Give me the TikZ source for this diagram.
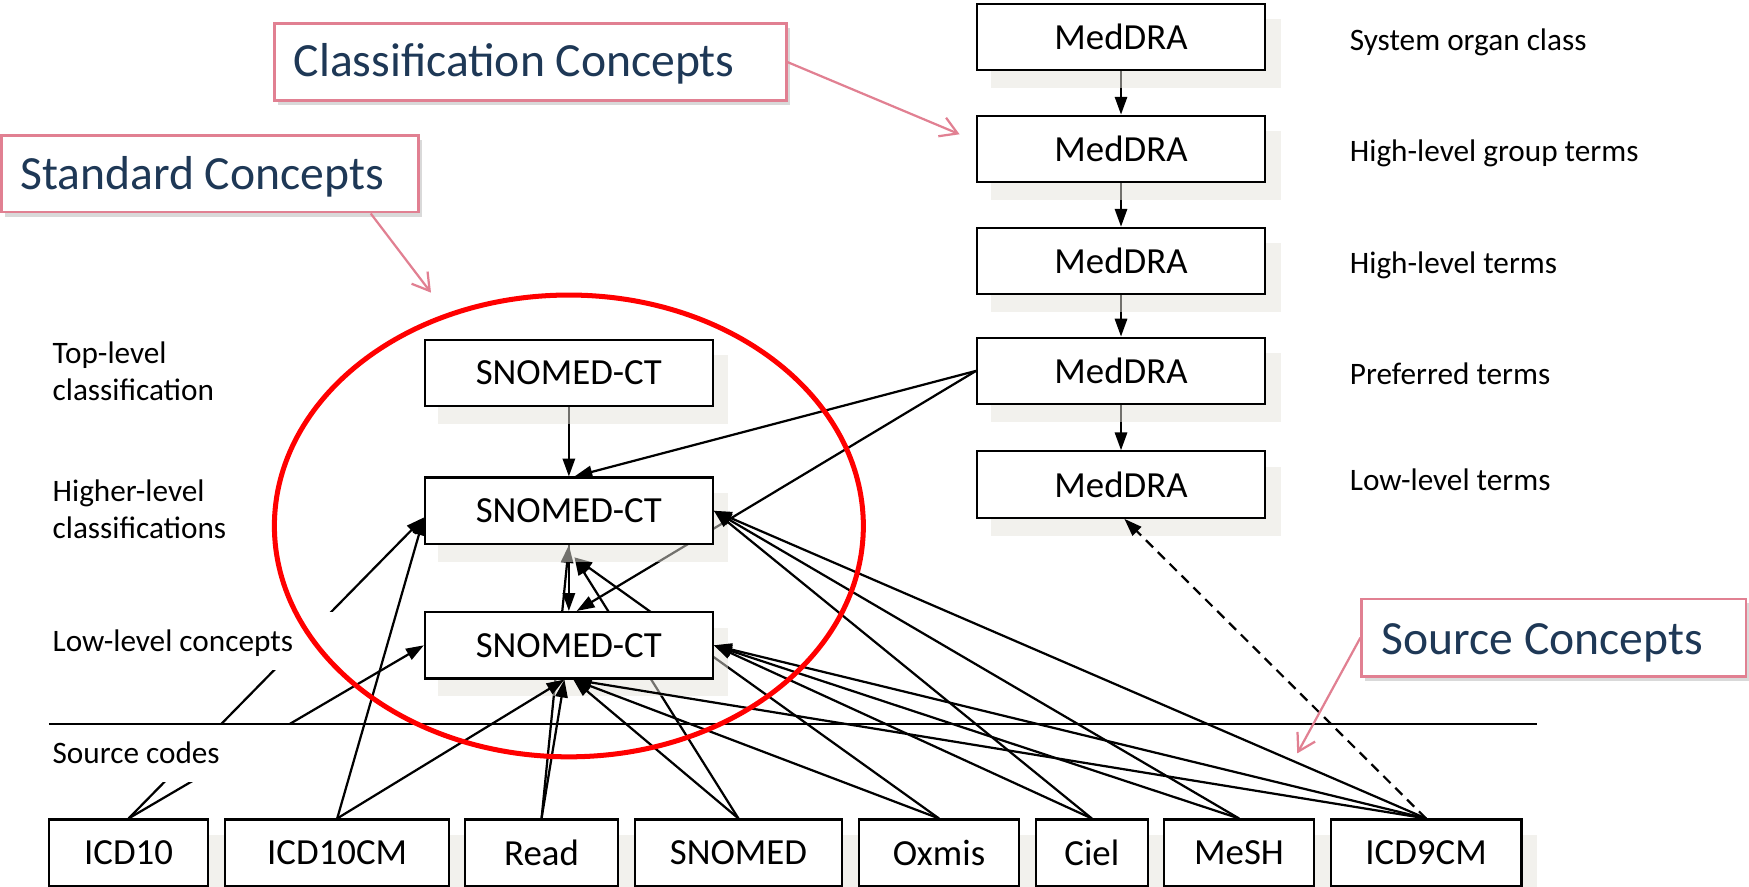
\documentclass[tikz,border=0pt]{standalone}
\usepackage{fontspec}
\setmainfont{Carlito}
\usetikzlibrary{arrows.meta,shadows,calc}
\pgfdeclarelayer{lowlinks}
\pgfdeclarelayer{tint}
\pgfdeclarelayer{highlinks}
\pgfsetlayers{lowlinks,tint,highlinks,main}

\definecolor{calloutpink}{RGB}{225,128,146}
\definecolor{callouttext}{RGB}{30,56,86}
\definecolor{tintfill}{RGB}{229,227,219}
\definecolor{ringred}{RGB}{255,0,0}

\begin{document}
\begin{tikzpicture}[x=1pt,y=-1pt,
  box/.style={draw=black, line width=2pt, fill=white, minimum height=59.5pt,
    inner sep=0pt, font=\fontsize{33}{40}\selectfont},
  wide/.style={box, minimum width=258pt},
  lbl/.style={anchor=base west, inner sep=0pt, font=\fontsize{28}{33.5}\selectfont},
  lblmask/.style={lbl, fill=white, inner xsep=7pt, text height=36pt,
    text depth=16.5pt, text width=246pt, align=flush left},
  link/.style={line width=2pt, -{Triangle[length=16pt,width=11pt]}},
  callout/.style={anchor=north west, draw=calloutpink, line width=2.4pt, fill=white,
    text=callouttext, inner ysep=0pt, align=flush left, font=\fontsize{42.7}{51}\selectfont,
    drop shadow={shadow xshift=3pt, shadow yshift=-4pt, opacity=0.3}},
  pointer/.style={draw=calloutpink, line width=2pt,
    -{Straight Barb[length=15pt,width=18pt]}},
]
\useasboundingbox (0,0) rectangle (1568,795);

% MedDRA hierarchy
\node[wide] (m1) at (1005,33)    {MedDRA};
\node[wide] (m2) at (1005,133.5) {MedDRA};
\node[wide] (m3) at (1005,234)   {MedDRA};
\node[wide] (m4) at (1005,332.5) {MedDRA};
\node[wide] (m5) at (1005,434.4) {MedDRA};

% SNOMED-CT hierarchy
\node[wide] (s1) at (510,334.4) {SNOMED-CT};
\node[wide] (s2) at (510,457.9) {SNOMED-CT};
\node[wide] (s3) at (510,578.5) {SNOMED-CT};

% source vocabularies
\node[box, minimum width=143pt]   (icd10)   at (115.3,764.5)  {ICD10};
\node[box, minimum width=200.5pt] (icd10cm) at (302.3,764.5)  {ICD10CM};
\node[box, minimum width=137pt]   (read)    at (485.5,764.5)  {Read};
\node[box, minimum width=186pt]   (snomed)  at (662,764.5)    {SNOMED};
\node[box, minimum width=143.6pt] (oxmis)   at (841.8,764.5)  {Oxmis};
\node[box, minimum width=100.4pt] (ciel)    at (978.8,764.5)  {Ciel};
\node[box, minimum width=134.4pt] (mesh)    at (1110.8,764.5) {MeSH};
\node[box, minimum width=171pt]   (icd9)    at (1278.5,764.5) {ICD9CM};

% light offset tint behind every box
\begin{pgfonlayer}{tint}
  \foreach \n in {m1,m2,m3,m4,m5,s1,s2,s3,icd10,icd10cm,read,snomed,oxmis,ciel,mesh,icd9}
    \fill[tintfill, fill opacity=0.5]
      ([shift={(13pt,-15pt)}]\n.north west) rectangle ([shift={(13pt,-15pt)}]\n.south east);
\end{pgfonlayer}

% links lying under the tint
\begin{pgfonlayer}{lowlinks}
  \draw[link] (m1.south) -- (m2.north);
  \draw[link] (m2.south) -- (m3.north);
  \draw[link] (m3.south) -- (m4.north);
  \draw[link] (m4.south) -- (m5.north);
  \draw[link] (s1.south) -- (s2.north);
  \draw[link] (s2.south) -- (s3.north);
  \draw[link] (m4.west) -- ([xshift=5pt]s2.north);
  \draw[link] (m4.west) -- ([xshift=7pt]s3.north);
  \draw[link] (read.north) -- (s2.south);
  \draw[link] (snomed.north) -- ([xshift=5pt,yshift=-11pt]s2.south);
  \draw[link] (oxmis.north) -- ([xshift=5pt,yshift=-11pt]s2.south);
\end{pgfonlayer}

% mappings from the source codes
\begin{pgfonlayer}{highlinks}
  \draw[link] (icd10.north) -- ([yshift=-6pt]s2.west);
  \draw[link] (icd10.north) -- (s3.west);
  \draw[link] (icd10cm.north) -- ([yshift=-6pt]s2.west);
  \draw[link] (icd10cm.north) -- ([xshift=-4pt]s3.south);
  \draw[link] (read.north) -- ([xshift=-4pt]s3.south);
  \draw[link] (snomed.north) -- ([xshift=4pt]s3.south);
  \draw[link] (oxmis.north) -- ([xshift=4pt]s3.south);
  \draw[link] (ciel.north) -- (s2.east);
  \draw[link] (ciel.north) -- (s3.east);
  \draw[link] (mesh.north) -- (s2.east);
  \draw[link] (mesh.north) -- (s3.east);
  \draw[link] (icd9.north) -- (s2.east);
  \draw[link] (icd9.north) -- (s3.east);
  \draw[link] (icd9.north) -- ([xshift=4pt]s3.south);
  \draw[link, dash pattern=on 9pt off 6pt] (icd9.north) -- ([xshift=3pt]m5.south);
\end{pgfonlayer}

% level names, MedDRA side
\node[lbl] (soc)  at (1210,45)    {System organ class};
\node[lbl] (hlgt) at (1210,144.5) {High-level group terms};
\node[lbl] (hlt)  at (1210,245.5) {High-level terms};
\node[lbl] (pt)   at (1210,345)   {Preferred terms};
\node[lbl] (llt)  at (1210,440)   {Low-level terms};

% level names, SNOMED side
\node[lbl] (top1) at (47,325.7) {Top-level};
\node[lbl] (top2) at (47,359.2) {classification};
\node[lbl] (hig1) at (47,449.2) {Higher-level};
\node[lbl] (hig2) at (47,483)   {classifications};
\node[lblmask] (low) at (40,584.3) {Low-level concepts};
\node[lblmask] (src) at (40,684.4) {Source codes};

% divider between concepts and source codes
\draw[line width=1.8pt] (43.9,649.1) -- (1378,649.1);

% standard concepts ring
\draw[ringred, line width=4.5pt] (510,471.5) ellipse [x radius=264pt, y radius=207pt];

% callouts
\node[callout, text width=424pt, inner xsep=17.5pt, text height=47.2pt, text depth=21.8pt]
  (classbox) at (244.7,20) {Classification Concepts};
\node[callout, text width=340pt, inner xsep=17pt, text height=48.8pt, text depth=20.2pt]
  (stdbox) at (0,120) {Standard Concepts};
\node[callout, text width=308.4pt, inner xsep=18pt, text height=49.4pt, text depth=20pt]
  (srcbox) at (1219.6,535.8) {Source Concepts};

\coordinate (classtip) at (860.3,120.4);
\coordinate (stdtip) at (386.4,262.4);
\coordinate (srctip) at (1163,675.4);
\draw[pointer] (classbox.east) -- (classtip);
\draw[pointer] ($(stdbox.south west)!0.883!(stdbox.south east)$) -- (stdtip);
\draw[pointer] (srcbox.west) -- (srctip);
\end{tikzpicture}
\end{document}
